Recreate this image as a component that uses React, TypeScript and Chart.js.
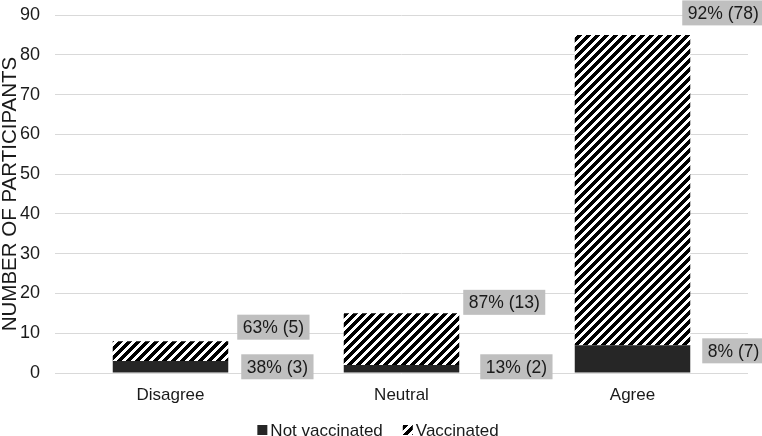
import React, { useEffect, useRef } from "react";
import { Chart, registerables } from "chart.js";

Chart.register(...registerables);

const CATEGORIES = ["Disagree", "Neutral", "Agree"];
const NOT_VACCINATED = [3, 2, 7];
const VACCINATED = [5, 13, 78];
const SERIES_NAMES = ["Not vaccinated", "Vaccinated"];
const Y_TICKS_MAX = 90;
const Y_TITLE = "NUMBER OF PARTICIPANTS";

// label placement styling (pixel nudges), per dataset, per category
const LABEL_DX = [
  [13, 21, 12],
  [9, 4, -8],
];
const LABEL_DY = [
  [0, -2, -8],
  [-14, -11, -22],
];

const FONT = "'Liberation Sans', Arial, sans-serif";
const TEXT = "#1a1a1a";
const DARK = "#262626";

function makeHatch(): CanvasPattern | string {
  const s = 9;
  const c = document.createElement("canvas");
  c.width = s;
  c.height = s;
  const ctx = c.getContext("2d");
  if (!ctx) return "#000";
  const img = ctx.createImageData(s, s);
  for (let y = 0; y < s; y++) {
    for (let x = 0; x < s; x++) {
      const k = (x + y) % s;
      const black = k < 4.5;
      const i = (y * s + x) * 4;
      const v = black ? 0 : 255;
      img.data[i] = v;
      img.data[i + 1] = v;
      img.data[i + 2] = v;
      img.data[i + 3] = 255;
    }
  }
  ctx.putImageData(img, 0, 0);
  const p = ctx.createPattern(c, "repeat");
  return p || "#000";
}

const labelPlugin = {
  id: "boxLabels",
  afterDatasetsDraw(chart: any) {
    const ctx = chart.ctx;
    const totals = CATEGORIES.map((_, j) => NOT_VACCINATED[j] + VACCINATED[j]);
    ctx.save();
    ctx.font = `17.5px ${FONT}`;
    ctx.textBaseline = "middle";
    ctx.textAlign = "left";
    chart.data.datasets.forEach((ds: any, i: number) => {
      const meta = chart.getDatasetMeta(i);
      meta.data.forEach((bar: any, j: number) => {
        const v = ds.data[j];
        const pct = Math.round((v / totals[j]) * 100);
        const text = `${pct}% (${v})`;
        const w = ctx.measureText(text).width + 11;
        const h = 25;
        const left = bar.x + bar.width / 2 + LABEL_DX[i][j];
        const cy =
          i === 0
            ? (bar.y + bar.base) / 2 + LABEL_DY[i][j]
            : bar.y + LABEL_DY[i][j];
        ctx.fillStyle = "#bfbfbf";
        ctx.fillRect(left, cy - h / 2, w, h);
        ctx.fillStyle = TEXT;
        ctx.fillText(text, left + 5.5, cy + 1);
      });
    });
    ctx.restore();
  },
};

const legendPlugin = {
  id: "customLegend",
  afterDraw(chart: any) {
    const ctx = chart.ctx;
    ctx.save();
    ctx.font = `17px ${FONT}`;
    ctx.textBaseline = "middle";
    ctx.textAlign = "left";
    const box = 10;
    const gap = 3;
    const itemGap = 20;
    const widths = chart.data.datasets.map((d: any) => ctx.measureText(d.label).width);
    const total =
      widths.reduce((a: number, w: number) => a + w + box + gap, 0) + itemGap * (widths.length - 1);
    let x = chart.width / 2 - 3 - total / 2;
    const cy = 430;
    chart.data.datasets.forEach((d: any, i: number) => {
      ctx.fillStyle = d.backgroundColor;
      ctx.fillRect(x, cy - box / 2, box, box);
      ctx.fillStyle = TEXT;
      ctx.fillText(d.label, x + box + gap, cy + 1);
      x += box + gap + widths[i] + itemGap;
    });
    ctx.restore();
  },
};

export default function App() {
  const ref = useRef<HTMLCanvasElement | null>(null);

  useEffect(() => {
    document.body.style.margin = "0";
    if (!ref.current) return;
    const hatch = makeHatch();
    const chart = new Chart(ref.current, {
      type: "bar",
      data: {
        labels: CATEGORIES,
        datasets: [
          {
            label: SERIES_NAMES[0],
            data: NOT_VACCINATED,
            backgroundColor: DARK,
            borderWidth: 0,
          },
          {
            label: SERIES_NAMES[1],
            data: VACCINATED,
            backgroundColor: hatch as any,
            borderWidth: 0,
          },
        ],
      },
      options: {
        animation: false,
        responsive: false,
        maintainAspectRatio: false,
        layout: { padding: { top: 15, right: 14, left: 0, bottom: 31 } },
        datasets: { bar: { categoryPercentage: 1, barPercentage: 0.5 } },
        plugins: {
          tooltip: { enabled: false },
          legend: { display: false },
        },
        scales: {
          x: {
            stacked: true,
            grid: { display: false, drawTicks: false, tickLength: 0 },
            border: { display: false },
            ticks: { font: { family: FONT, size: 17 }, color: TEXT, padding: 12, maxRotation: 0 },
            afterFit: (s: any) => {
              s.height = 32;
              s.paddingLeft = 0;
              s.paddingRight = 0;
            },
          },
          y: {
            stacked: true,
            min: 0,
            max: Y_TICKS_MAX,
            afterFit: (s: any) => {
              s.width = 55;
              s.paddingTop = 0;
              s.paddingBottom = 0;
            },
            ticks: {
              stepSize: 10,
              font: { family: FONT, size: 18 },
              color: TEXT,
              padding: 15,
            },
            grid: { color: "#d9d9d9", lineWidth: 1, drawTicks: false },
            border: { display: false },
            title: {
              display: true,
              text: Y_TITLE,
              font: { family: FONT, size: 20.5, lineHeight: 1 },
              color: TEXT,
              padding: 0,
            },
          },
        },
      },
      plugins: [labelPlugin, legendPlugin],
    });
    return () => chart.destroy();
  }, []);

  return (
    <div style={{ width: 762, height: 436 }}>
      <canvas ref={ref} width={762} height={436} style={{ width: 762, height: 436 }} />
    </div>
  );
}
